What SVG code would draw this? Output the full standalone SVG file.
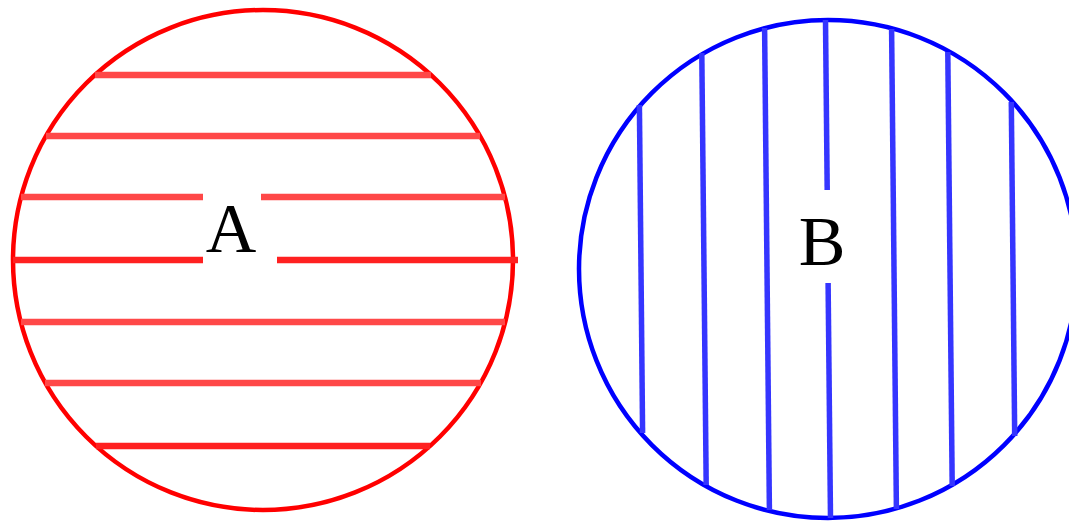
<svg xmlns="http://www.w3.org/2000/svg" width="1069" height="523" viewBox="0 0 1069 523">
<style>
.ring-a{fill:none;stroke:#ff0000;stroke-width:4.5}
.ring-b{fill:none;stroke:#0000ff;stroke-width:4.5}
.ha{stroke:#ff4848;stroke-width:6.5;fill:none}
.hb{stroke:#3535ff;stroke-width:5.5;fill:none}
.lbl{font-family:"Liberation Serif","Times New Roman",serif;font-size:70px;fill:#000;text-anchor:middle}
</style>
<rect width="1069" height="523" fill="#fff"/>
<g id="A">
<circle class="ring-a" cx="263" cy="260" r="250"/>
<g id="hatch-a">
<line class="ha" x1="95" y1="75" x2="431" y2="75"/>
<line class="ha" x1="46" y1="136" x2="480" y2="136"/>
<line class="ha" x1="21" y1="197" x2="203" y2="197"/>
<line class="ha" x1="261" y1="197" x2="505" y2="197"/>
<line class="ha" x1="13" y1="260" x2="203" y2="260" style="stroke:#ff2020"/>
<line class="ha" x1="277" y1="260" x2="518" y2="260" style="stroke:#ff2020"/>
<line class="ha" x1="21" y1="322" x2="505" y2="322"/>
<line class="ha" x1="45" y1="383" x2="481" y2="383"/>
<line class="ha" x1="96" y1="446" x2="430" y2="446" style="stroke:#ff2020"/>
</g>
<text class="lbl" x="231" y="252">A</text>
</g>
<g id="B">
<circle class="ring-b" cx="828" cy="269" r="249"/>
<g id="hatch-b">
<line class="hb" x1="639.4" y1="105" x2="642.6" y2="433"/>
<line class="hb" x1="701.8" y1="53" x2="706.2" y2="485"/>
<line class="hb" x1="764.6" y1="28" x2="769.4" y2="510"/>
<line class="hb" x1="825.5" y1="20" x2="827.2" y2="190"/>
<line class="hb" x1="828.1" y1="283" x2="830.5" y2="518"/>
<line class="hb" x1="891.6" y1="29" x2="896.4" y2="509"/>
<line class="hb" x1="947.8" y1="52" x2="952.2" y2="486"/>
<line class="hb" x1="1011.3" y1="102" x2="1014.7" y2="436"/>
</g>
<text class="lbl" x="822" y="265">B</text>
</g>
</svg>
